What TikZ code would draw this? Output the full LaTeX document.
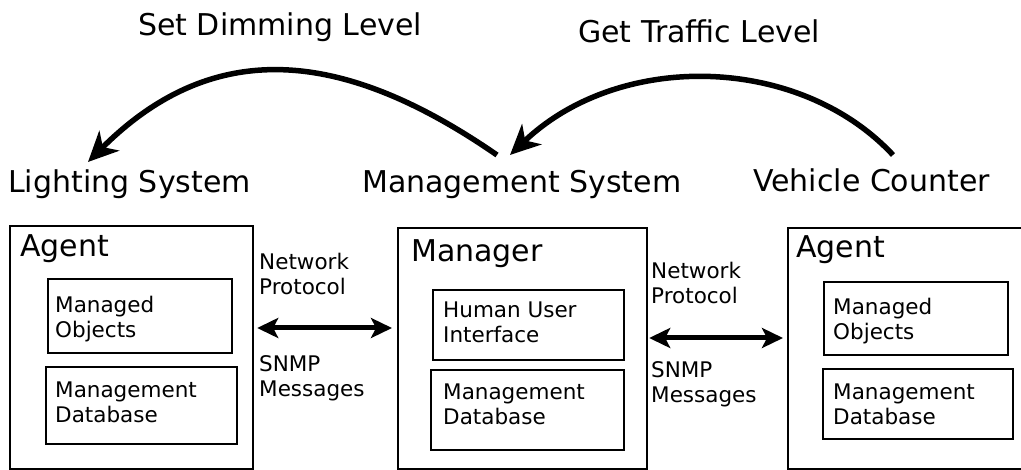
\documentclass[tikz,border=0pt]{standalone}
\usepackage{fontspec}
\setmainfont{DejaVu Sans}
\usetikzlibrary{arrows.meta}
\newcommand{\twoln}[2]{\vtop{\hbox{#1}\hbox{#2}}}
\begin{document}
\begin{tikzpicture}[x=1pt,y=-1pt,
  outerbox/.style={draw, line width=2.2pt, anchor=north west, inner sep=0pt},
  innerbox/.style={draw, line width=1.6pt, anchor=north west, inner sep=0pt},
  headtext/.style={anchor=base west, inner sep=0pt, font=\fontsize{30}{36}\selectfont},
  smalltext/.style={anchor=base west, inner sep=0pt, font=\fontsize{21.5}{24.5}\selectfont},
  curvearrow/.style={line width=5.5pt, -{Stealth[length=30pt,width=28pt,inset=9pt]}},
  duplex/.style={line width=5pt, {Stealth[length=21pt,width=20pt,inset=5pt]}-{Stealth[length=21pt,width=20pt,inset=5pt]}}]
\useasboundingbox (0,0) rectangle (1021,470);

% top labels
\node[headtext] (setdim) at (138,36) {Set Dimming Level};
\node[headtext] (gettraf) at (578,43) {Get Traffic Level};
\node[headtext] (light) at (8,193) {Lighting System};
\node[headtext] (mgmt) at (362,193) {Management System};
\node[headtext] (vehicle) at (753,192) {Vehicle Counter};

% outer boxes
\node[outerbox, minimum width=243pt, minimum height=243pt] (agentL) at (9,225) {};
\node[outerbox, minimum width=249pt, minimum height=241pt] (mgr) at (397,227) {};
\node[outerbox, minimum width=262pt, minimum height=241pt] (agentR) at (787,227) {};

\node[headtext] (agentLt) at (20,257) {Agent};
\node[headtext] (mgrt) at (411,262) {Manager};
\node[headtext] (agentRt) at (796,258) {Agent};

% inner boxes
\node[innerbox, minimum width=184pt, minimum height=74pt] (moL) at (47,278) {};
\node[innerbox, minimum width=191pt, minimum height=77pt] (mdL) at (45,366) {};
\node[innerbox, minimum width=191pt, minimum height=70pt] (hui) at (432,289) {};
\node[innerbox, minimum width=193pt, minimum height=80pt] (mdM) at (430,369) {};
\node[innerbox, minimum width=184pt, minimum height=73pt] (moR) at (823,281) {};
\node[innerbox, minimum width=190pt, minimum height=70pt] (mdR) at (822,368) {};

\node[smalltext] (moLt) at (55,313) {\twoln{Managed}{Objects}};
\node[smalltext] (mdLt) at (55,398) {\twoln{Management}{Database}};
\node[smalltext] (huit) at (443,318) {\twoln{Human User}{Interface}};
\node[smalltext] (mdMt) at (443,400) {\twoln{Management}{Database}};
\node[smalltext] (moRt) at (833,315) {\twoln{Managed}{Objects}};
\node[smalltext] (mdRt) at (833,400) {\twoln{Management}{Database}};

\node[smalltext] (npL) at (259,270) {\twoln{Network}{Protocol}};
\node[smalltext] (snL) at (259,372) {\twoln{SNMP}{Messages}};
\node[smalltext] (npR) at (651,279) {\twoln{Network}{Protocol}};
\node[smalltext] (snR) at (651,378) {\twoln{SNMP}{Messages}};

% horizontal double arrows
\coordinate (ly) at (0,328);
\coordinate (ry) at (0,338);
\draw[duplex, shorten <=3pt, shorten >=5pt] (agentL.east |- ly) -- (mgr.west |- ly);
\draw[duplex, shorten <=1pt, shorten >=4pt] (mgr.east |- ry) -- (agentR.west |- ry);

% curved arrows
\coordinate (dimS) at (497,155);
\coordinate (dimE) at (88,162);
\coordinate (trafS) at (893,155);
\coordinate (trafE) at (510,155);
\draw[curvearrow] (dimS) .. controls (345,50) and (215,35) .. (dimE);
\draw[curvearrow] (trafS) .. controls (800,55) and (620,50) .. (trafE);
\end{tikzpicture}
\end{document}
